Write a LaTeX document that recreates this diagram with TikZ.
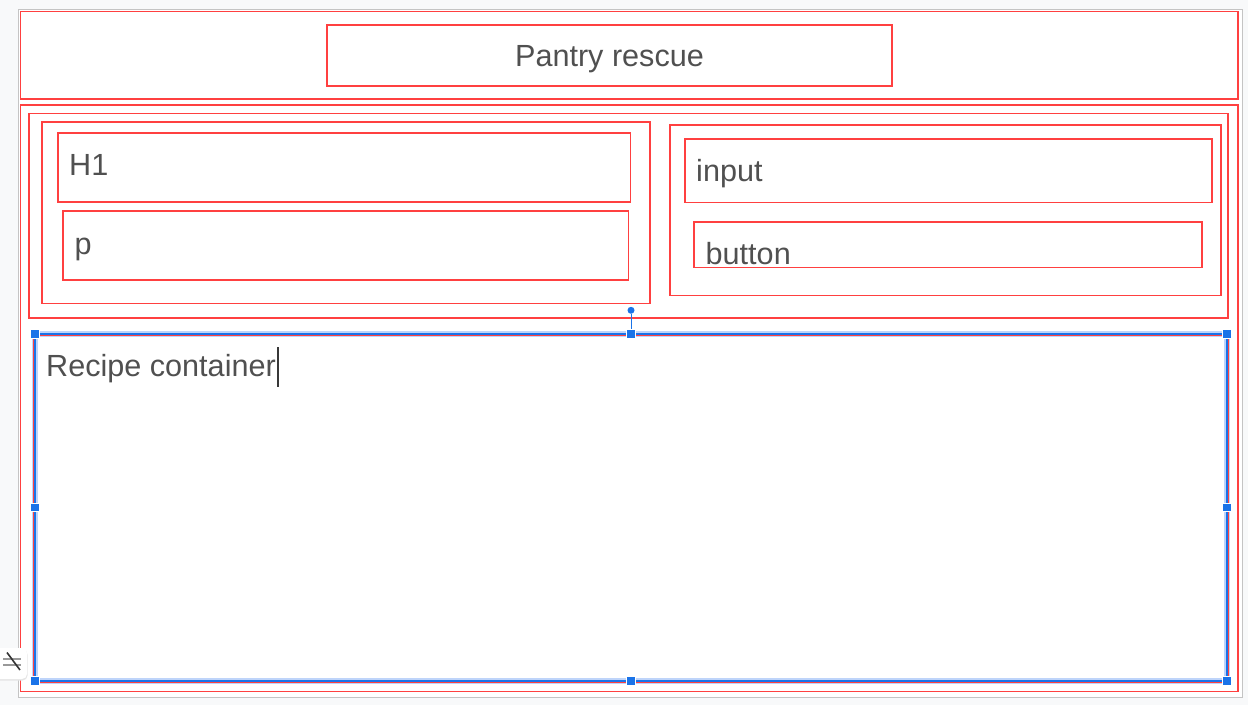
\documentclass[tikz,border=0pt]{standalone}
\usepackage{fontspec}
\setmainfont{Liberation Sans}
\definecolor{boxred}{RGB}{255,64,64}
\definecolor{inkgray}{RGB}{80,80,80}
\definecolor{selblue}{RGB}{26,115,232}
\definecolor{selhalo}{RGB}{190,212,250}
\definecolor{deskgray}{RGB}{248,249,250}
\definecolor{pagegray}{RGB}{196,196,196}
\begin{document}
\begin{tikzpicture}[x=1pt,y=-1pt,
  wire/.style={draw=boxred,line width=1.9pt},
  lbl/.style={text=inkgray,font=\fontsize{30.6}{36}\selectfont,inner sep=0pt,anchor=base west},
  handle/.style={fill=selblue,draw=white,line width=0.8pt,minimum size=8.5pt,inner sep=0pt}]

\useasboundingbox (0,0) rectangle (1248,705);
\fill[deskgray] (0,0) rectangle (1248,705);
\filldraw[fill=white,draw=pagegray,line width=1pt] (18.5,9.5) rectangle (1242.5,697.5);

% header
\draw[wire] (20.5,11.5) rectangle (1238,99);
\draw[wire] (327,25) rectangle (892,86);
\node[lbl,anchor=base] (title) at (609.5,66.5) {Pantry rescue};

% body and top row
\draw[wire] (20.5,105) rectangle (1238,691.5);
\draw[wire] (29,113.5) rectangle (1228,318);
\draw[wire] (42,122) rectangle (650,303.5);
\draw[wire] (58,133) rectangle (630.5,202);
\node[lbl] (h1) at (69,175) {H1};
\draw[wire] (63,211) rectangle (628.5,280);
\node[lbl] (p) at (74.5,254) {p};
\draw[wire] (670,125) rectangle (1221,295.5);
\draw[wire] (685,139) rectangle (1212,202.5);
\node[lbl] (input) at (696,181) {input};
\draw[wire] (694,222) rectangle (1202,267.5);
\node[lbl] (button) at (705.5,264) {button};

% recipe container, selected
\draw[selhalo,line width=5.5pt] (35,334) rectangle (1227,681);
\draw[draw=boxred,line width=1.3pt] (34,335.5) rectangle (1228,682);
\draw[selblue,line width=1.5pt] (35,334) rectangle (1227,681);
\node[lbl] (recipe) at (46,376.5) {Recipe container};
\draw[inkgray!70!black,line width=1.3pt] (278,347) -- (278,386.5);

\foreach \hx/\hy/\hn in {35/334/nw,631/334/n,1227/334/ne,1227/507.5/e,1227/681/se,631/681/s,35/681/sw,35/507.5/w}
  \node[handle] (h\hn) at (\hx,\hy) {};
\node[circle,fill=selblue,inner sep=0pt,minimum size=7pt] (rot) at (631,310.3) {};
\draw[selblue,line width=1pt] (rot) -- (hn);

% side tool button
\fill[black!10,rounded corners=5pt] (-6,649.5) rectangle (27.5,680.5);
\fill[white,rounded corners=5pt] (-6,648) rectangle (27,679);
\draw[black!40,line width=1.3pt] (3,659) -- (21,659) (3,665) -- (21,665);
\draw[black!80,line width=1.6pt] (7,652.5) -- (20,670);

\end{tikzpicture}
\end{document}
